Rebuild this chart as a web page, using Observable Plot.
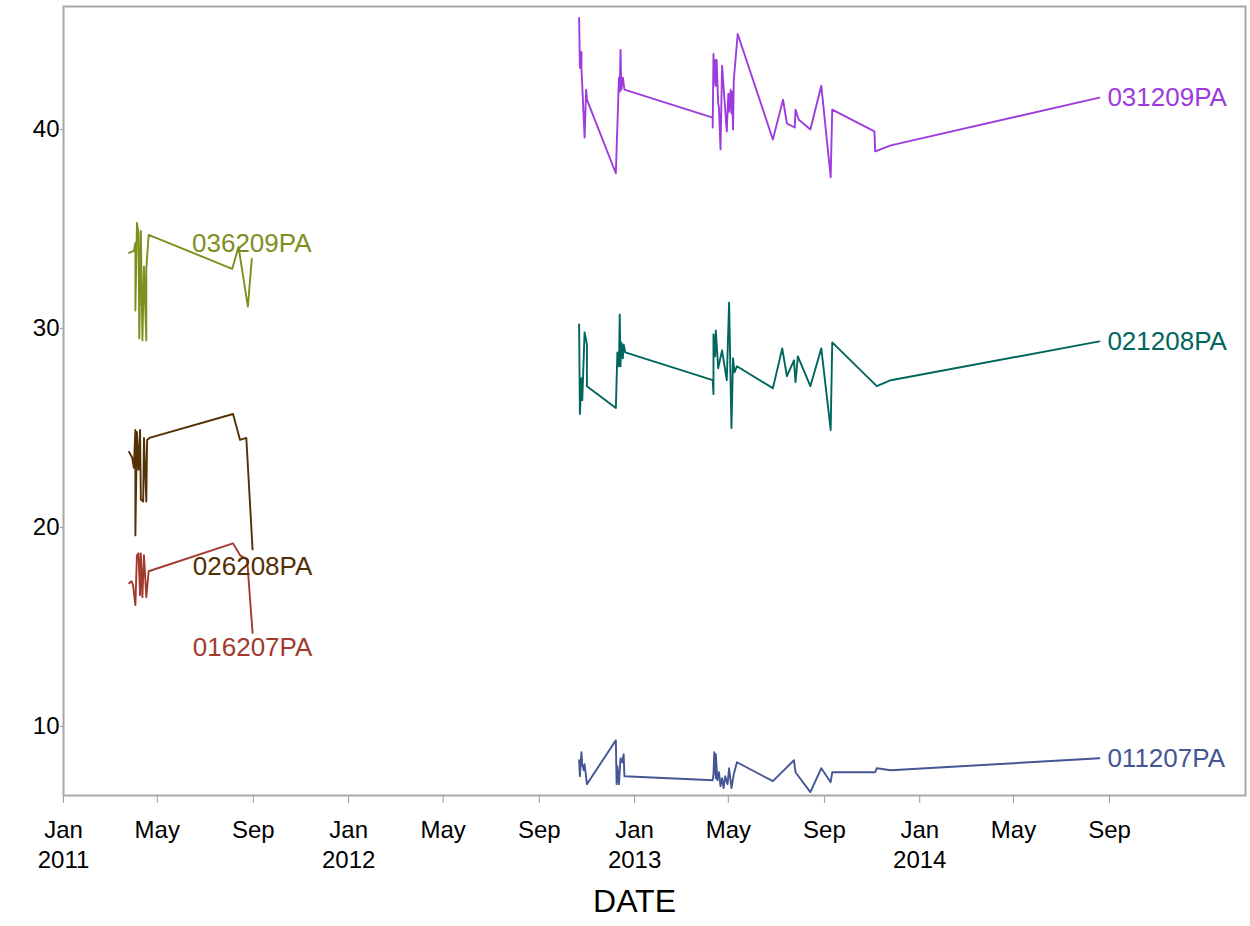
<!DOCTYPE html>
<html>
<head>
<meta charset="utf-8">
<script src="https://cdn.jsdelivr.net/npm/d3@7"></script>
<script src="https://cdn.jsdelivr.net/npm/@observablehq/plot@0.6"></script>
<style>
  html, body { margin: 0; padding: 0; background: #fff; }
  #chart svg { display: block; }
</style>
</head>
<body>
<div id="chart"></div>
<script>
// ---- Data ----
const seriesIds = ["011207PA", "016207PA", "021208PA", "026208PA", "031209PA", "036209PA"];
const seriesColors = ["#445694", "#A23A2E", "#01665E", "#543005", "#9D3CDB", "#7F8E1F"];

const s011207PA = [
  ["2012-10-22", 8.3], ["2012-10-23", 7.5], ["2012-10-25", 8.7], ["2012-10-26", 8.1], ["2012-10-28", 7.8],
  ["2012-10-29", 8.1], ["2012-11-01", 7.1], ["2012-12-08", 9.3], ["2012-12-09", 7.1], ["2012-12-10", 8.0],
  ["2012-12-12", 7.1], ["2012-12-14", 8.4], ["2012-12-16", 8.2], ["2012-12-18", 8.6], ["2012-12-19", 7.5],
  ["2013-04-11", 7.3], ["2013-04-12", 7.6], ["2013-04-13", 8.7], ["2013-04-15", 7.4], ["2013-04-15", 8.6],
  ["2013-04-17", 7.3], ["2013-04-19", 7.7], ["2013-04-21", 7.0], ["2013-04-23", 7.4], ["2013-04-25", 6.9],
  ["2013-04-27", 7.5], ["2013-04-30", 7.1], ["2013-05-02", 7.9], ["2013-05-05", 6.9], ["2013-05-08", 7.6],
  ["2013-05-12", 8.2], ["2013-06-27", 7.25], ["2013-07-24", 8.3], ["2013-07-26", 7.7], ["2013-08-14", 6.7],
  ["2013-08-28", 7.9], ["2013-09-09", 7.2], ["2013-09-11", 7.7], ["2013-11-05", 7.7], ["2013-11-07", 7.9],
  ["2013-11-25", 7.8], ["2014-08-19", 8.4]
];
const s016207PA = [
  ["2011-03-26", 17.2], ["2011-03-29", 17.3], ["2011-03-31", 17.1], ["2011-04-03", 16.1], ["2011-04-05", 18.6],
  ["2011-04-07", 18.7], ["2011-04-09", 16.6], ["2011-04-10", 18.7], ["2011-04-12", 16.5], ["2011-04-14", 18.6],
  ["2011-04-17", 16.5], ["2011-04-20", 17.8], ["2011-08-06", 19.2], ["2011-08-15", 18.6], ["2011-08-24", 18.4],
  ["2011-08-31", 14.7]
];
const s021208PA = [
  ["2012-10-22", 30.2], ["2012-10-23", 25.7], ["2012-10-25", 27.5], ["2012-10-26", 26.4], ["2012-10-27", 27.5],
  ["2012-10-29", 29.8], ["2012-11-01", 29.2], ["2012-11-01", 27.1], ["2012-12-08", 26.0], ["2012-12-10", 28.8],
  ["2012-12-12", 28.1], ["2012-12-13", 30.7], ["2012-12-14", 28.1], ["2012-12-15", 29.3], ["2012-12-17", 28.5],
  ["2012-12-18", 29.2], ["2012-12-20", 28.8], ["2013-04-11", 27.4], ["2013-04-12", 26.7], ["2013-04-12", 29.7],
  ["2013-04-14", 28.6], ["2013-04-15", 29.9], ["2013-04-18", 28.0], ["2013-04-23", 28.9], ["2013-04-29", 27.4],
  ["2013-05-02", 31.3], ["2013-05-05", 25.0], ["2013-05-07", 28.5], ["2013-05-09", 27.8], ["2013-05-12", 28.1],
  ["2013-06-27", 27.0], ["2013-07-09", 29.0], ["2013-07-15", 27.6], ["2013-07-24", 28.4], ["2013-07-26", 27.3],
  ["2013-07-29", 28.6], ["2013-08-14", 27.1], ["2013-08-28", 29.0], ["2013-09-09", 24.9], ["2013-09-11", 29.3],
  ["2013-11-07", 27.1], ["2013-11-25", 27.4], ["2014-08-19", 29.35]
];
const s026208PA = [
  ["2011-03-26", 23.8], ["2011-03-30", 23.5], ["2011-04-01", 23.0], ["2011-04-03", 24.9], ["2011-04-03", 19.6],
  ["2011-04-05", 24.8], ["2011-04-07", 22.9], ["2011-04-09", 24.9], ["2011-04-10", 21.4], ["2011-04-13", 21.3],
  ["2011-04-14", 24.5], ["2011-04-17", 21.3], ["2011-04-18", 24.4], ["2011-04-21", 24.5], ["2011-08-06", 25.7],
  ["2011-08-15", 24.4], ["2011-08-23", 24.5], ["2011-08-31", 18.9]
];
const s031209PA = [
  ["2012-10-22", 45.6], ["2012-10-23", 43.1], ["2012-10-25", 43.9], ["2012-10-25", 43.1], ["2012-10-29", 39.6],
  ["2012-10-31", 42.0], ["2012-11-01", 41.5], ["2012-12-08", 37.8], ["2012-12-12", 42.6], ["2012-12-13", 41.9],
  ["2012-12-14", 44.0], ["2012-12-15", 42.0], ["2012-12-17", 42.6], ["2012-12-19", 42.0], ["2013-04-11", 40.6],
  ["2013-04-11", 40.1], ["2013-04-12", 43.8], ["2013-04-12", 42.2], ["2013-04-14", 43.5], ["2013-04-15", 42.2],
  ["2013-04-16", 43.5], ["2013-04-18", 41.3], ["2013-04-19", 41.1], ["2013-04-21", 39.0], ["2013-04-23", 43.2],
  ["2013-04-29", 39.9], ["2013-05-01", 41.8], ["2013-05-02", 40.9], ["2013-05-04", 42.0], ["2013-05-05", 40.8],
  ["2013-05-06", 41.9], ["2013-05-07", 40.0], ["2013-05-08", 42.5], ["2013-05-13", 44.8], ["2013-06-27", 39.5],
  ["2013-07-10", 41.5], ["2013-07-15", 40.3], ["2013-07-25", 40.1], ["2013-07-26", 41.0], ["2013-07-30", 40.5],
  ["2013-08-14", 40.0], ["2013-08-28", 42.2], ["2013-09-09", 37.6], ["2013-09-11", 41.0], ["2013-11-04", 39.9],
  ["2013-11-05", 38.9], ["2013-11-25", 39.2], ["2014-08-19", 41.6]
];
const s036209PA = [
  ["2011-03-26", 33.8], ["2011-04-01", 33.9], ["2011-04-03", 34.3], ["2011-04-03", 30.9], ["2011-04-05", 35.3],
  ["2011-04-07", 34.8], ["2011-04-08", 29.5], ["2011-04-10", 34.9], ["2011-04-12", 29.4], ["2011-04-14", 33.1],
  ["2011-04-17", 29.4], ["2011-04-17", 33.0], ["2011-04-20", 34.7], ["2011-08-05", 33.0], ["2011-08-13", 34.1],
  ["2011-08-25", 31.1], ["2011-08-30", 33.5]
];

const xTickLabels = [
  "2011-01-01", "2011-05-01", "2011-09-01", "2012-01-01", "2012-05-01", "2012-09-01",
  "2013-01-01", "2013-05-01", "2013-09-01", "2014-01-01", "2014-05-01", "2014-09-01"
];
const yTickValues = [10, 20, 30, 40];

// label placement per series (relative to its last point)
const labelPlacement = [
  {id: "011207PA", anchor: "start", dx: 8, dy: 0},
  {id: "016207PA", anchor: "middle", dx: 0, dy: 15},
  {id: "021208PA", anchor: "start", dx: 8, dy: 0},
  {id: "026208PA", anchor: "middle", dx: 0, dy: 17},
  {id: "031209PA", anchor: "start", dx: 8, dy: 0},
  {id: "036209PA", anchor: "middle", dx: 0, dy: -15}
];

// ---- Build table ----
const seriesPoints = {
  "011207PA": s011207PA, "016207PA": s016207PA, "021208PA": s021208PA,
  "026208PA": s026208PA, "031209PA": s031209PA, "036209PA": s036209PA
};
const rows = seriesIds.flatMap(id => seriesPoints[id].map(([d, v]) => ({id, date: new Date(d), value: v})));

const fmtMonth = d3.utcFormat("%b");
const fmtYear = d3.utcFormat("%Y");
const tickFormat = d => d.getUTCMonth() === 0 ? fmtMonth(d) + "\n" + fmtYear(d) : fmtMonth(d);

const labelMarks = labelPlacement.map(p => {
  const pts = seriesPoints[p.id];
  const last = pts[pts.length - 1];
  return Plot.text([{id: p.id, date: new Date(last[0]), value: last[1]}], {
    x: "date", y: "value", text: "id", fill: "id",
    textAnchor: p.anchor, dx: p.dx, dy: p.dy, fontSize: 26
  });
});

const chart = Plot.plot({
  width: 1250,
  height: 926,
  marginLeft: 63,
  marginRight: 5,
  marginTop: 6,
  marginBottom: 131,
  style: {fontFamily: "'Liberation Sans', Arial, sans-serif", background: "#fff"},
  x: {type: "utc", domain: [new Date("2011-01-01"), new Date("2015-02-22")]},
  y: {domain: [6.53, 46.18]},
  color: {domain: seriesIds, range: seriesColors},
  marks: [
    Plot.axisX({
      ticks: xTickLabels.map(d => new Date(d)), tickFormat,
      tickSize: 8, tickPadding: 13, fontSize: 24, lineHeight: 1.25,
      stroke: "#9a9a9a", fill: "#000", label: null
    }),
    Plot.axisY({
      ticks: yTickValues, tickSize: 3, tickPadding: 1, fontSize: 24,
      stroke: "#9a9a9a", fill: "#000", label: null
    }),
    Plot.line(rows, {x: "date", y: "value", z: "id", stroke: "id", strokeWidth: 1.9}),
    ...labelMarks,
    Plot.text(["DATE"], {frameAnchor: "bottom", dy: 116, dx: -20, fontSize: 32, fill: "#000"}),
    Plot.frame({stroke: "#a8a8a8", strokeWidth: 2})
  ]
});
document.getElementById("chart").appendChild(chart);
</script>
</body>
</html>
